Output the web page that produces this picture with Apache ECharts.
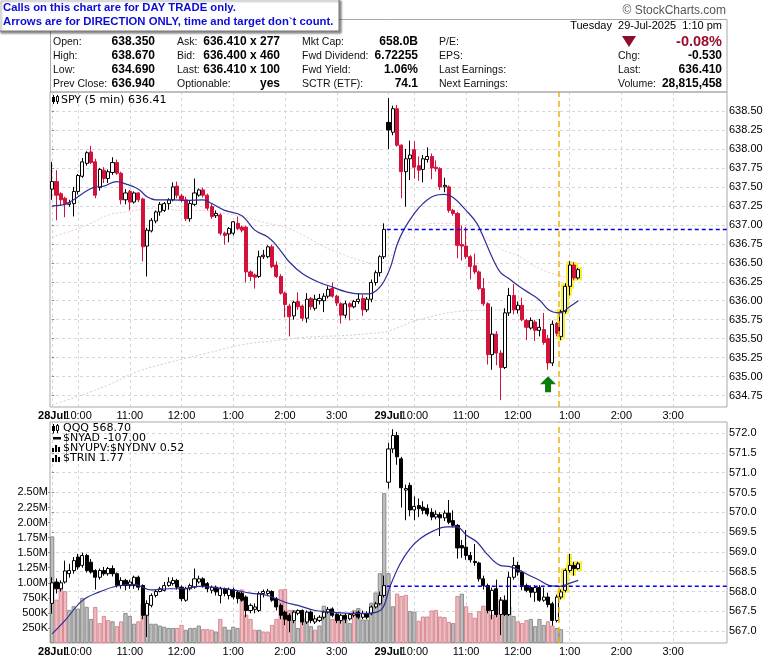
<!DOCTYPE html>
<html><head><meta charset="utf-8">
<script src="https://cdn.jsdelivr.net/npm/echarts@6/dist/echarts.min.js"></script>
<style>html,body{margin:0;padding:0;background:#fff}#c{width:780px;height:659px}</style>
</head><body><div id="c"></div>
<script>
// ---------- tick labels ----------
const tickIdx = [0,6,18,30,42,54,66,78,84,96,108,120,132,144];
const tickLbl = ['28Jul','10:00','11:00','12:00','1:00','2:00','3:00','29Jul','10:00','11:00','12:00','1:00','2:00','3:00'];
const spyTicks = [634.75,635.00,635.25,635.50,635.75,636.00,636.25,636.50,636.75,637.00,637.25,637.50,637.75,638.00,638.25,638.50];
const qqqTicks = [567.0,567.5,568.0,568.5,569.0,569.5,570.0,570.5,571.0,571.5,572.0];
const volTicks = [250000,500000,750000,1000000,1250000,1500000,1750000,2000000,2250000,2500000];
const SLOTS = 157;      // 5-minute slots on the axis (two sessions)
const DAY_LEN = 78;     // bars per session

// ---------- SPY 5-min [open, close, low, high] ----------
const spyDay1 = [
[637.47,637.57,637.33,637.83],[637.57,637.39,637.06,637.72],[637.41,637.33,637.25,637.43],[637.35,637.28,637.10,637.37],[637.27,637.29,637.24,637.33],
[637.28,637.44,637.11,637.50],[637.44,637.65,637.40,637.67],[637.64,637.83,637.62,637.88],[637.81,637.95,637.78,637.97],[637.96,637.82,637.80,638.04],
[637.83,637.39,637.35,637.87],[637.49,637.73,637.45,637.75],[637.72,637.61,637.55,637.76],[637.61,637.70,637.55,637.73],[637.69,637.82,637.66,637.89],
[637.82,637.68,637.66,637.86],[637.68,637.33,637.27,637.70],[637.33,637.42,637.27,637.47],[637.44,637.30,637.19,637.46],[637.30,637.42,637.28,637.44],
[637.42,637.33,637.30,637.43],[637.34,636.71,636.52,637.36],[636.72,636.93,636.32,636.96],[636.92,637.06,636.90,637.09],[637.05,637.17,637.02,637.19],
[637.17,637.27,637.12,637.30],[637.19,637.28,637.17,637.30],[637.28,637.33,637.20,637.35],[637.33,637.50,637.31,637.56],[637.51,637.39,637.35,637.57],
[637.38,637.33,637.30,637.41],[637.33,637.08,637.05,637.37],[637.08,637.28,637.04,637.32],[637.27,637.42,637.25,637.61],[637.39,637.46,637.37,637.48],
[637.46,637.39,637.36,637.49],[637.39,637.22,637.19,637.41],[637.24,637.11,637.08,637.28],[637.12,637.15,637.09,637.19],[637.13,636.89,636.86,637.15],
[636.89,636.86,636.74,636.91],[636.88,636.95,636.77,636.97],[636.89,637.04,636.86,637.05],[637.02,636.95,636.93,637.11],[636.97,636.93,636.90,636.99],
[636.97,636.38,636.24,636.99],[636.38,636.32,636.26,636.40],[636.34,636.31,636.16,636.36],[636.32,636.58,636.30,636.66],[636.58,636.60,636.55,636.67],
[636.58,636.71,636.56,636.73],[636.71,636.45,636.43,636.74],[636.47,636.32,636.30,636.52],[636.32,636.10,636.08,636.35],[636.10,635.95,635.78,636.12],
[635.93,635.79,635.53,635.96],[635.80,635.98,635.75,636.00],[635.99,635.92,635.88,636.11],[635.93,635.77,635.73,635.95],[635.77,636.02,635.71,636.10],
[636.03,635.92,635.88,636.05],[635.90,636.02,635.87,636.08],[636.00,636.03,635.95,636.09],[636.00,636.06,635.85,636.10],[636.06,636.15,636.03,636.19],
[636.16,636.06,636.04,636.24],[636.06,635.97,635.93,636.08],[635.96,635.81,635.70,635.98],[635.81,635.96,635.77,636.00],[635.96,635.92,635.74,635.98],
[635.92,635.99,635.90,636.01],[635.99,636.02,635.96,636.10],[636.03,635.88,635.80,636.08],[635.88,636.02,635.85,636.05],[636.02,636.24,635.98,636.28],
[636.24,636.37,636.20,636.40],[636.37,636.58,636.32,636.60],[636.58,636.94,636.55,637.02]
];
const spyDay2 = [
[638.35,638.25,638.00,638.67],[638.22,638.53,638.18,638.57],[638.53,638.05,638.03,638.58],[638.05,637.70,637.35,638.06],[637.70,637.87,637.24,638.00],
[637.87,637.92,637.59,638.11],[637.99,637.76,637.61,638.10],[637.78,637.72,637.58,637.90],[637.73,637.87,637.56,637.92],[637.86,637.90,637.82,638.02],
[637.90,637.75,637.60,637.94],[637.76,637.74,637.70,637.85],[637.74,637.50,637.46,637.76],[637.50,637.52,637.43,637.62],[637.50,637.19,637.16,637.52],
[637.19,637.15,637.12,637.21],[637.15,636.73,636.56,637.17],[636.74,636.72,636.53,636.99],[636.72,636.58,636.55,636.97],[636.58,636.45,636.28,636.60],
[636.46,636.38,636.35,636.62],[636.38,636.16,636.14,636.40],[636.16,635.96,635.93,636.30],[635.96,635.29,635.16,635.98],[635.29,635.56,635.09,635.92],
[635.56,635.31,635.15,635.60],[635.31,635.12,634.69,635.35],[635.12,635.84,635.10,635.90],[635.84,636.07,635.80,636.17],[636.07,635.88,635.82,636.22],
[635.88,635.94,635.83,635.99],[635.94,635.75,635.73,636.04],[635.74,635.65,635.48,635.76],[635.64,635.74,635.62,635.78],[635.72,635.61,635.47,635.75],
[635.61,635.65,635.53,635.76],[635.62,635.45,635.42,635.84],[635.50,635.18,635.09,635.55],[635.18,635.69,635.14,635.74],[635.70,635.57,635.53,635.72],
[635.53,635.86,635.48,635.88],[635.86,636.19,635.83,636.23],[636.19,636.47,636.07,636.52],[636.47,636.30,636.27,636.51],[636.30,636.41,636.28,636.43]
];

// ---------- QQQ 5-min [open, close, low, high] ----------
const qqqDay1 = [
[567.70,568.22,567.44,568.36],[568.24,568.07,567.95,568.33],[568.07,568.22,568.00,568.28],[568.24,568.52,568.20,568.78],[568.45,568.53,568.35,568.70],
[568.53,568.78,568.45,568.87],[568.87,568.62,568.55,568.95],[568.66,568.91,568.60,568.98],[568.91,568.53,568.48,568.95],[568.74,568.49,568.45,568.82],
[568.53,568.36,568.05,568.56],[568.36,568.53,568.30,568.58],[568.53,568.45,568.40,568.62],[568.45,568.58,568.40,568.62],[568.58,568.45,568.38,568.66],
[568.45,568.15,568.10,568.48],[568.15,568.28,568.07,568.36],[568.28,568.15,568.03,568.32],[568.15,568.24,568.07,568.30],[568.15,568.36,568.07,568.40],
[568.36,568.11,568.03,568.40],[568.15,567.40,567.30,568.18],[567.40,567.70,566.85,567.78],[567.65,567.90,567.60,567.95],[567.90,568.00,567.85,568.05],
[568.00,568.07,567.98,568.12],[568.03,568.15,568.00,568.24],[568.15,568.24,568.12,568.36],[568.20,568.28,568.15,568.36],[568.28,568.11,568.05,568.32],
[568.11,567.82,567.75,568.15],[567.78,568.07,567.74,568.12],[568.07,568.15,568.03,568.20],[568.11,568.32,568.07,568.58],[568.24,568.32,568.20,568.40],
[568.32,568.15,568.10,568.36],[568.20,568.07,567.98,568.24],[568.03,568.11,567.95,568.15],[568.11,567.99,567.90,568.15],[567.90,568.07,567.70,568.12],
[568.07,567.95,567.88,568.10],[567.90,568.05,567.80,568.10],[568.05,567.86,567.80,568.10],[567.98,567.82,567.70,568.03],[567.95,567.78,567.74,568.00],
[567.86,567.52,567.35,567.90],[567.52,567.65,567.45,567.70],[567.55,567.61,567.45,567.70],[567.52,567.95,567.48,568.00],[567.95,568.00,567.85,568.05],
[567.95,568.01,567.88,568.07],[568.00,567.78,567.74,568.03],[567.82,567.61,567.52,567.86],[567.65,567.40,567.30,567.70],[567.48,567.30,567.15,567.52],
[567.40,567.27,566.97,567.45],[567.27,567.48,567.20,567.52],[567.45,567.52,567.40,567.55],[567.52,567.23,567.15,567.55],[567.23,567.48,567.18,567.52],
[567.48,567.27,567.20,567.52],[567.23,567.31,567.18,567.40],[567.27,567.35,567.23,567.40],[567.35,567.48,567.30,567.52],[567.48,567.55,567.44,567.61],
[567.56,567.40,567.35,567.60],[567.42,567.27,567.20,567.45],[567.27,567.40,567.19,567.44],[567.40,567.30,567.20,567.44],[567.31,567.42,567.27,567.46],
[567.40,567.44,567.35,567.50],[567.48,567.35,567.30,567.52],[567.35,567.44,567.30,567.52],[567.44,567.35,567.30,567.50],[567.44,567.61,567.40,567.65],
[567.61,567.69,567.57,567.74],[567.69,567.90,567.65,568.00],[567.90,568.15,567.85,568.40]
];
const qqqDay2 = [
[570.76,571.60,570.60,571.75],[571.60,571.94,571.50,572.10],[571.94,571.40,571.20,572.03],[571.35,570.62,570.12,571.40],[570.56,570.60,569.80,570.70],
[570.68,570.06,569.90,570.75],[570.06,570.15,569.80,570.40],[570.17,570.09,569.88,570.35],[570.13,570.05,569.95,570.28],[570.10,569.96,569.90,570.20],
[570.00,569.88,569.80,570.10],[569.88,569.95,569.82,570.05],[569.94,569.86,569.40,570.00],[569.86,569.98,569.78,570.05],[569.98,569.75,569.70,570.31],
[569.79,569.67,569.62,570.05],[569.67,569.10,568.83,569.70],[569.16,569.10,568.85,569.30],[569.12,568.91,568.80,569.55],[568.91,568.80,568.73,569.00],
[568.76,568.73,568.65,569.20],[568.72,568.32,568.25,568.75],[568.32,568.15,568.05,568.40],[568.15,567.52,567.45,568.20],[567.52,568.03,567.30,568.10],
[568.07,567.42,567.35,568.30],[567.42,567.78,566.90,567.86],[567.78,567.42,567.38,567.90],[567.42,568.36,567.38,568.50],[568.36,568.66,568.30,568.87],
[568.66,568.49,568.40,568.75],[568.49,568.15,568.03,568.53],[568.15,568.03,567.98,568.20],[568.10,567.98,567.85,568.15],[567.98,568.10,567.74,568.16],
[568.10,567.78,567.74,568.16],[567.78,567.86,567.74,568.10],[567.86,567.67,567.60,567.97],[567.69,567.27,567.14,567.74],[567.27,567.86,567.22,567.92],
[567.86,567.99,567.80,568.05],[568.03,568.53,567.98,568.58],[568.53,568.66,568.48,568.95],[568.66,568.58,568.40,568.75],[568.58,568.70,568.55,568.75]
];

// ---------- volume (shares) and up/down flag ----------
const volDay1 = [1770000,720000,950000,860000,550000,610000,570000,750000,600000,400000,
600000,330000,450000,380000,360000,280000,360000,500000,450000,320000,
360000,660000,600000,320000,320000,290000,270000,250000,250000,250000,
300000,220000,250000,250000,290000,230000,230000,220000,190000,400000,
270000,220000,270000,250000,890000,470000,400000,220000,220000,190000,
180000,300000,400000,890000,900000,550000,550000,250000,390000,420000,
280000,220000,290000,620000,550000,400000,500000,420000,390000,330000,
550000,580000,390000,390000,670000,840000,1160000,2490000];
const volUpDay1 = [1,0,0,0,1,1,1,1,1,1, 0,0,0,0,1,0,0,1,1,1, 0,0,1,1,1,1,1,1,1,0, 0,1,1,1,1,0,0,0,1,0,
1,1,1,1,0,0,0,0,1,0, 0,0,0,0,0,0,1,1,0,1, 1,0,1,1,1,0,0,0,1,1, 0,1,1,1,1,1,1,1];
const volDay2 = [1160000,610000,820000,780000,800000,530000,520000,370000,440000,440000,
540000,550000,440000,430000,350000,330000,780000,820000,610000,500000,
420000,530000,620000,550000,470000,620000,730000,580000,610000,450000,
360000,330000,380000,400000,280000,400000,300000,360000,290000,250000,230000];
const volUpDay2 = [1,1,0,0,0,1,1,0,0,0, 0,0,0,0,0,1,0,1,0,0, 0,0,0,0,0,0,0,1,1,1, 0,0,0,1,1,1,1,0,0,1,1];

// ---------- moving averages [bar slot, value] ----------
const spyMA20 = [[0,637.25],[3,637.27],[5,637.33],[7,637.41],[9.5,637.49],[12,637.51],[15,637.57],[17,637.54],[20,637.47],[22,637.37],[24,637.33],
[28,637.33],[31,637.32],[35,637.33],[37,637.28],[40,637.19],[44,637.12],[47,636.93],[50,636.84],[52,636.73],[55,636.51],[58,636.36],[62,636.24],
[65,636.18],[68,636.12],[71,636.09],[73.5,636.09],[75.5,636.15],[77,636.26],[78.5,636.45],[80,636.74],[81.5,636.93],[84,637.15],[86,637.28],
[88.5,637.38],[91,637.40],[93,637.36],[96,637.19],[98.5,637.02],[100,636.84],[102.3,636.54],[104,636.37],[106,636.29],[108.5,636.18],[111,636.09],
[113,636.01],[115.4,635.87],[117.7,635.84],[120,635.92],[122,636.00]];
const spyMA50 = [[0,636.84],[5,636.93],[9,637.02],[13,637.13],[17,637.17],[24,637.22],[30,637.19],[34,637.19],[40,637.15],[44,637.11],[50,637.02],
[55,636.95],[59,636.84],[63,636.71],[67,636.62],[71,636.54],[75,636.49],[78,636.55],[81,636.80],[85,636.97],[89,637.02],[93,637.02],[97,636.97],
[101,636.82],[104.5,636.67],[108.5,636.58],[112,636.45],[117,636.34],[120,636.30]];
const spyMA200 = [[0,634.63],[5,634.72],[13,634.89],[20,635.07],[28,635.20],[36,635.31],[44,635.42],[51,635.47],[59,635.52],[67,635.54],[74,635.57],
[78,635.60],[85,635.75],[97,635.87],[108,635.88],[120,635.87]];
const qqqMA20 = [[0,566.93],[3,567.27],[7,567.77],[11,567.99],[15,568.14],[19,568.18],[23,568.04],[27,568.07],[30,568.07],[34,568.13],[38,568.10],
[42,568.04],[46,567.96],[50,567.90],[54,567.73],[57,567.65],[61,567.52],[65,567.48],[69,567.45],[73,567.45],[75.3,567.48],[76.8,567.61],[78.3,568.11],
[80.7,568.70],[83,569.08],[85.3,569.33],[88.4,569.53],[91.5,569.63],[93.8,569.63],[96.1,569.42],[98.5,569.25],[100.8,568.95],[103.9,568.66],
[106.2,568.63],[108.5,568.53],[110.8,568.40],[113.1,568.28],[115.4,568.15],[117.7,568.13],[120.1,568.21],[122,568.28]];

// ---------- reference levels / marks ----------
const spyPrevClose = 636.94;
const qqqPrevClose = 568.13;
const markerSlot = 117.5;      // yellow dashed time marker
const highlightFrom = 40;      // first highlighted bar of session 2
const arrowAt = [115, 634.90]; // green arrow (slot, price)

// ---------- build ----------
const SANS = '"Liberation Sans", Arial, sans-serif';
const RED = '#d3123c';
const cats = Array.from({length: SLOTS}, (_, i) => String(i));

function candleItems(day1, day2, gapBlack) {
  const out = [];
  day1.forEach((d, i) => out.push([i, d[0], d[1], d[2], d[3]]));
  const prevC = day1[day1.length - 1][1];
  day2.forEach((d, j) => {
    const item = {value: [DAY_LEN + j, d[0], d[1], d[2], d[3]]};
    if (gapBlack && j === 0 && d[1] < d[0] && d[1] > prevC) item.itemStyle = {color0: '#000', borderColor0: '#000'};
    out.push(item);
  });
  return out;
}
function highlightItems(day2) {
  return day2.map((d, j) => j >= highlightFrom ? [DAY_LEN + j, d[0], d[1], d[2], d[3]] : null).filter(Boolean);
}
function volItems() {
  const out = [];
  const g = {color: '#bdbdbd', borderColor: '#8d8d8d', borderWidth: 1};
  const p = {color: '#ecbcc1', borderColor: '#d88891', borderWidth: 1};
  volDay1.forEach((v, i) => out.push({value: [i, v], itemStyle: volUpDay1[i] ? g : p}));
  volDay2.forEach((v, j) => out.push({value: [DAY_LEN + j, v], itemStyle: volUpDay2[j] ? g : p}));
  return out;
}
// first label (session-1 date) is drawn separately so the axis does not drop it or its neighbour
const xLabelFmt = v => {
  const k = tickIdx.indexOf(Math.round(v));
  if (k <= 0) return '';
  const t = tickLbl[k];
  return /Jul/.test(t) ? '{b|' + t + '}' : t;
};
const gridLine = {show: true, lineStyle: {color: '#d6d6d6', type: [3, 3], width: 1}};

function valX(gi) {
  return {type: 'value', gridIndex: gi, min: -0.5, max: SLOTS - 0.5, position: 'bottom',
    axisLine: {show: false}, axisTick: {show: false, customValues: tickIdx},
    axisLabel: {customValues: tickIdx, formatter: xLabelFmt, margin: 3, fontSize: 11, fontFamily: SANS, color: '#000',
      hideOverlap: false,
      rich: {b: {fontWeight: 'bold', fontSize: 11, fontFamily: SANS, color: '#000'}}},
    splitLine: gridLine};
}
function catX(gi) {
  return {type: 'category', gridIndex: gi, data: cats, boundaryGap: true, show: false};
}
const candleStyleSpy = {color: '#fff', color0: RED, borderColor: '#000', borderColor0: RED, borderWidth: 1};
const candleStyleQqq = {color: '#fff', color0: '#000', borderColor: '#000', borderColor0: '#000', borderWidth: 1};
const hiStyle = {color: '#f7ef3a', color0: '#f7ef3a', borderColor: '#f7ef3a', borderColor0: '#f7ef3a', borderWidth: 5};
const lineBase = {type: 'line', showSymbol: false, silent: true, smooth: 0.4};
const noSym = ['none', 'none'];
function prevCloseSeries(xi, yi, y) {
  return {type: 'line', xAxisIndex: xi, yAxisIndex: yi, showSymbol: false, silent: true, z: 6,
    data: [[DAY_LEN - 0.4, y], [SLOTS - 0.5, y]], lineStyle: {color: '#0000ff', type: [4, 3], width: 1.5}};
}
const markerLine = {silent: true, symbol: noSym, label: {show: false}, lineStyle: {color: '#f0b20a', type: [6, 4], width: 1.5},
  data: [{xAxis: markerSlot}]};

const option = {
  animation: false,
  backgroundColor: '#fff',
  grid: [
    {left: 50, top: 92, width: 677, height: 315, show: true, borderColor: '#a9a9a9', borderWidth: 1},
    {left: 50, top: 422, width: 677, height: 221, show: true, borderColor: '#a9a9a9', borderWidth: 1}
  ],
  xAxis: [catX(0), valX(0), catX(1), valX(1)],
  yAxis: [
    {type: 'value', gridIndex: 0, position: 'right', min: 634.6, max: 638.75, scale: true,
      axisLine: {show: false}, axisTick: {show: true, length: 2, customValues: spyTicks, lineStyle: {color: '#888'}},
      axisLabel: {customValues: spyTicks, formatter: v => v.toFixed(2), margin: 2, fontSize: 11, fontFamily: SANS, color: '#000'},
      splitLine: gridLine},
    {type: 'value', gridIndex: 1, position: 'right', min: 566.7, max: 572.28, scale: true,
      axisLine: {show: false}, axisTick: {show: true, length: 2, customValues: qqqTicks, lineStyle: {color: '#888'}},
      axisLabel: {customValues: qqqTicks, formatter: v => v.toFixed(1), margin: 2, fontSize: 11, fontFamily: SANS, color: '#000'},
      splitLine: gridLine},
    {type: 'value', gridIndex: 1, position: 'left', min: 0, max: 3670000,
      axisLine: {show: false}, axisTick: {show: true, length: 2, customValues: volTicks, lineStyle: {color: '#888'}},
      axisLabel: {customValues: volTicks, margin: 2, fontSize: 11, fontFamily: SANS, color: '#000',
        formatter: v => v >= 1e6 ? (v / 1e6).toFixed(2) + 'M' : Math.round(v / 1e3) + 'K'},
      splitLine: {show: false}}
  ],
  series: [
    // volume
    {type: 'bar', xAxisIndex: 2, yAxisIndex: 2, data: volItems(), barCategoryGap: '0%', silent: true, z: 1},
    // SPY
    Object.assign({}, lineBase, {xAxisIndex: 1, yAxisIndex: 0, data: spyMA50, z: 2,
      lineStyle: {color: '#f2c6cc', width: 1, type: [2, 2]}, markLine: markerLine}),
    Object.assign({}, lineBase, {xAxisIndex: 1, yAxisIndex: 0, data: spyMA200, z: 2,
      lineStyle: {color: '#bcdcbc', width: 1, type: [2, 2]}}),
    {type: 'candlestick', xAxisIndex: 0, yAxisIndex: 0, data: highlightItems(spyDay2), encode: {x: 0, y: [1, 2, 3, 4]},
      barWidth: 3.6, itemStyle: hiStyle, silent: true, z: 3},
    {type: 'candlestick', xAxisIndex: 0, yAxisIndex: 0, data: candleItems(spyDay1, spyDay2, true), encode: {x: 0, y: [1, 2, 3, 4]},
      barWidth: 3.6, itemStyle: candleStyleSpy, silent: true, z: 4},
    Object.assign({}, lineBase, {xAxisIndex: 1, yAxisIndex: 0, data: spyMA20, z: 5,
      lineStyle: {color: '#2d2d98', width: 1.2},
      markPoint: {silent: true, data: [{coord: arrowAt, symbol: 'path://M8,0 L16,8 L11,8 L11,16 L5,16 L5,8 L0,8 Z',
        symbolSize: [16, 16], itemStyle: {color: '#0b7d0b'}, label: {show: false}}]}}),
    prevCloseSeries(1, 0, spyPrevClose),
    // QQQ
    {type: 'candlestick', xAxisIndex: 2, yAxisIndex: 1, data: highlightItems(qqqDay2), encode: {x: 0, y: [1, 2, 3, 4]},
      barWidth: 3.6, itemStyle: hiStyle, silent: true, z: 3},
    {type: 'candlestick', xAxisIndex: 2, yAxisIndex: 1, data: candleItems(qqqDay1, qqqDay2, false), encode: {x: 0, y: [1, 2, 3, 4]},
      barWidth: 3.6, itemStyle: candleStyleQqq, silent: true, z: 4},
    Object.assign({}, lineBase, {xAxisIndex: 3, yAxisIndex: 1, data: qqqMA20, z: 5,
      lineStyle: {color: '#2d2d98', width: 1.2}}),
    prevCloseSeries(3, 1, qqqPrevClose),
    Object.assign({}, lineBase, {xAxisIndex: 3, yAxisIndex: 1, data: [], z: 2, markLine: markerLine})
  ]
};

// ---------- header / annotations (graphic) ----------
const rowsY = [42, 56, 70, 84];
const hdrCols = [
  {x: 53, labels: ['Open:', 'High:', 'Low:', 'Prev Close:'], vx: 155, values: ['638.350', '638.670', '634.690', '636.940']},
  {x: 177, labels: ['Ask:', 'Bid:', 'Last:', 'Optionable:'], vx: 280, values: ['636.410 x 277', '636.400 x 460', '636.410 x 100', 'yes']},
  {x: 302, labels: ['Mkt Cap:', 'Fwd Dividend:', 'Fwd Yield:', 'SCTR (ETF):'], vx: 418, values: ['658.0B', '6.72255', '1.06%', '74.1']},
  {x: 439, labels: ['P/E:', 'EPS:', 'Last Earnings:', 'Next Earnings:'], vx: null, values: []},
  {x: 618, labels: ['', 'Chg:', 'Last:', 'Volume:'], vx: 722, values: ['-0.08%', '-0.530', '636.410', '28,815,458']}
];
const calloutLines = ['Calls on this chart are for DAY TRADE only.', 'Arrows are for DIRECTION ONLY, time and target don`t count.'];
const spyLegend = 'SPY (5 min) 636.41';
const qqqLegend = ['QQQ 568.70', '$NYAD -107.00', '$NYUPV:$NYDNV 0.52', '$TRIN 1.77'];

function T(x, y, text, font, fill, align, valign) {
  return {type: 'text', x: x, y: y, silent: true, z: 100,
    style: {text: text, font: font, fill: fill || '#000', align: align || 'left', verticalAlign: valign || 'middle'}};
}
const g = [];
g.push({type: 'rect', shape: {x: 50.5, y: 19.5, width: 676.5, height: 72.5}, style: {fill: 'none', stroke: '#a9a9a9', lineWidth: 1}, silent: true, z: 90});
hdrCols.forEach((c, ci) => {
  c.labels.forEach((l, r) => { if (l) g.push(T(c.x, rowsY[r], l, '10.5px ' + SANS, '#111')); });
  c.values.forEach((v, r) => {
    const big = ci === 4 && r === 0;
    g.push(T(c.vx, rowsY[r], v, (big ? 'bold 14.5px ' : 'bold 12px ') + SANS, big ? '#9a0f2e' : '#000', 'right'));
  });
});
g.push({type: 'polygon', shape: {points: [[622, 36], [636, 36], [629, 47]]}, style: {fill: '#8e0c2c'}, silent: true, z: 100});
g.push(T(722, 26, 'Tuesday  29-Jul-2025  1:10 pm', '11px ' + SANS, '#000', 'right'));
g.push(T(726, 11, '\u00a9 StockCharts.com', '12px ' + SANS, '#555', 'right'));
// callout box
g.push({type: 'rect', shape: {x: -1, y: -1, width: 340, height: 32}, style: {fill: '#fff', stroke: '#7a7a7a', lineWidth: 1,
  shadowColor: 'rgba(0,0,0,0.45)', shadowOffsetX: 2, shadowOffsetY: 2, shadowBlur: 2}, silent: true, z: 110});
calloutLines.forEach((l, i) => g.push(Object.assign(T(3, 8 + i * 14, l, 'bold 11.3px ' + SANS, '#0c0cd8'), {z: 111})));
// SPY legend
g.push({type: 'line', shape: {x1: 53.5, y1: 95, x2: 53.5, y2: 104}, style: {stroke: '#000', lineWidth: 1}, silent: true, z: 100});
g.push({type: 'rect', shape: {x: 52, y: 97, width: 3, height: 5}, style: {fill: '#000'}, silent: true, z: 100});
g.push({type: 'line', shape: {x1: 57.5, y1: 95, x2: 57.5, y2: 104}, style: {stroke: '#000', lineWidth: 1}, silent: true, z: 100});
g.push({type: 'rect', shape: {x: 56.5, y: 96.5, width: 2, height: 5}, style: {fill: '#fff', stroke: '#000'}, silent: true, z: 100});
g.push(T(61, 100, spyLegend, '11px "DejaVu Sans", sans-serif'));
// QQQ legend
const ly = [428, 438, 448, 458];
qqqLegend.forEach((l, i) => g.push(T(63, ly[i], l, '11px "DejaVu Sans", sans-serif')));
g.push({type: 'line', shape: {x1: 53.5, y1: 424, x2: 53.5, y2: 433}, style: {stroke: '#000', lineWidth: 1}, silent: true, z: 100});
g.push({type: 'rect', shape: {x: 52, y: 426, width: 3, height: 5}, style: {fill: '#000'}, silent: true, z: 100});
g.push({type: 'line', shape: {x1: 57.5, y1: 424, x2: 57.5, y2: 433}, style: {stroke: '#000', lineWidth: 1}, silent: true, z: 100});
g.push({type: 'rect', shape: {x: 56.5, y: 425.5, width: 2, height: 5}, style: {fill: '#fff', stroke: '#000'}, silent: true, z: 100});
g.push({type: 'rect', shape: {x: 53, y: 437, width: 8, height: 2.5}, style: {fill: '#000'}, silent: true, z: 100});
[448, 458].forEach(yy => {
  [[52, 4], [55, 7], [58, 5]].forEach(b => g.push({type: 'rect', shape: {x: b[0], y: yy + 4 - b[1], width: 2, height: b[1]}, style: {fill: '#000'}, silent: true, z: 100}));
});
option.graphic = g;

const chart = echarts.init(document.getElementById('c'), null, {renderer: 'canvas'});
chart.setOption(option);

// session-1 date label, positioned through the axis scale
const firstLbl = tickLbl[0], firstIdx = tickIdx[0];
const extra = [];
[[1, 407], [3, 643]].forEach(([xi, yb]) => {
  const px = chart.convertToPixel({xAxisIndex: xi}, firstIdx);
  extra.push(T(px, yb + 3, firstLbl, 'bold 11px ' + SANS, '#000', 'center', 'top'));
});
chart.setOption({graphic: g.concat(extra)});
</script>
</body></html>
